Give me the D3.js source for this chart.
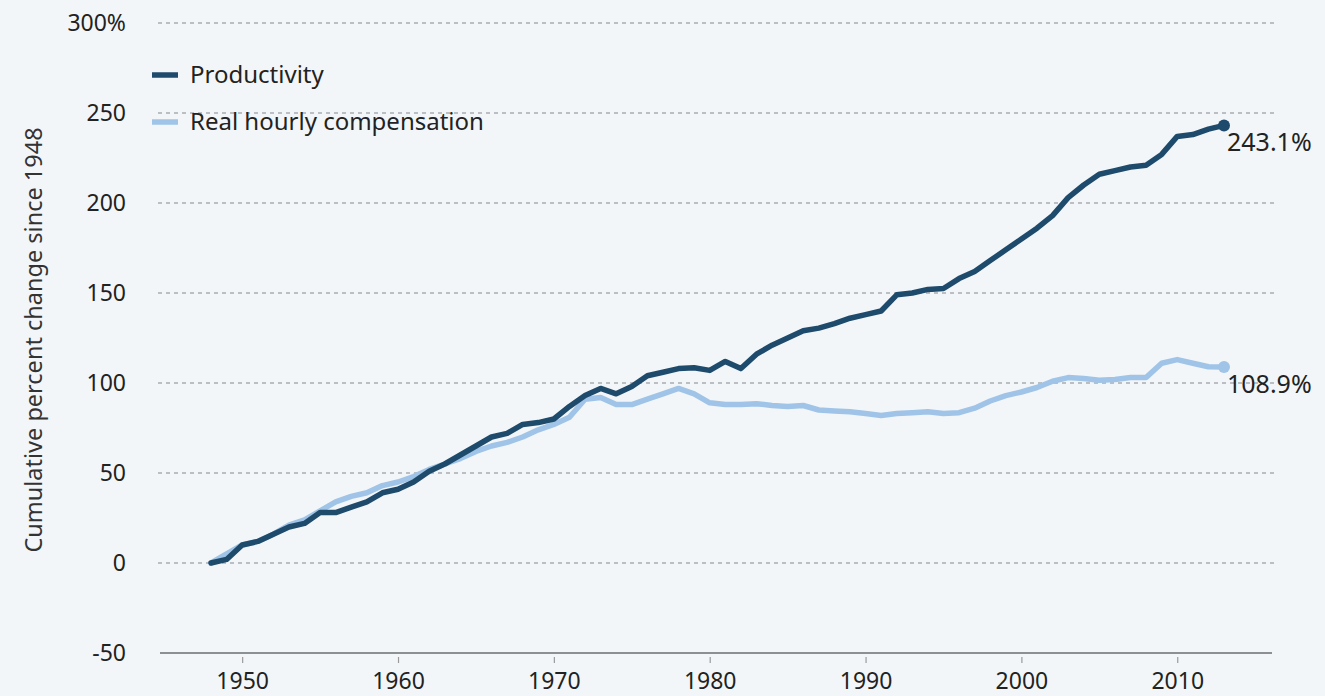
<!DOCTYPE html>
<html>
<head>
<meta charset="utf-8">
<script src="https://cdn.jsdelivr.net/npm/d3@7"></script>
<style>
  html, body { margin: 0; padding: 0; background: #f3f6f9; }
  svg { display: block; font-family: "Noto Sans", sans-serif; }
</style>
</head>
<body>
<svg id="chart" width="1325" height="696"></svg>
<script>
// years 1948-2013
const years = d3.range(1948, 2014);

// cumulative % change since 1948
const productivity = [
  0, 2, 10, 12, 16, 20, 22, 28, 28, 31,
  34, 39, 41, 45, 51, 55, 60, 65, 70, 72,
  77, 78, 80, 87, 93, 97, 94, 98, 104, 106,
  108, 108.5, 107, 112, 108, 116, 121, 125, 129, 130.5,
  133, 136, 138, 140, 149, 150, 152, 152.5, 158, 162,
  168, 174, 180, 186, 193, 203, 210, 216, 218, 220,
  221, 227, 237, 238, 241, 243.1
];
const compensation = [
  0, 5, 10, 12, 16, 21, 24, 29, 34, 37,
  39, 43, 45, 48, 52, 55, 58, 62, 65, 67,
  70, 74, 77, 81, 91, 92, 88, 88, 91, 94,
  97, 94, 89, 88, 88, 88.5, 87.5, 87, 87.5, 85,
  84.5, 84, 83, 82, 83, 83.5, 84, 83, 83.5, 86,
  90, 93, 95, 97.5, 101, 103, 102.5, 101.5, 102, 103,
  103, 111, 113, 111, 109, 108.9
];

const yTicks = [-50, 0, 50, 100, 150, 200, 250, 300];
const xTicks = [1950, 1960, 1970, 1980, 1990, 2000, 2010];

const seriesNames = ["Productivity", "Real hourly compensation"];
const colors = ["#1e4a6c", "#9fc4e7"];
const endLabels = ["243.1%", "108.9%"];

const svg = d3.select("#chart");

// scales
const x = d3.scaleLinear()
    .domain([1948, 2013])
    .range([211, 1224]);

const y = d3.scaleLinear()
    .domain([-50, 300])
    .range([653, 23]);

const gridLeft = 158, gridRight = 1274;

// dashed gridlines
svg.append("g")
  .selectAll("line")
  .data(yTicks.filter(d => d > -50))
  .join("line")
    .attr("x1", gridLeft)
    .attr("x2", gridRight)
    .attr("y1", d => y(d))
    .attr("y2", d => y(d))
    .attr("stroke", "#a9acb0")
    .attr("stroke-width", 1.6)
    .attr("stroke-dasharray", "4,4");

// y axis labels
svg.append("g")
  .selectAll("text")
  .data(yTicks)
  .join("text")
    .attr("x", 126)
    .attr("y", d => y(d))
    .attr("dy", "0.35em")
    .attr("text-anchor", "end")
    .attr("font-size", 23)
    .attr("fill", "#222")
    .text(d => d === 300 ? "300%" : d);

// x axis (bottom line at -50)
const xAxis = svg.append("g")
    .attr("transform", `translate(0,${y(-50)})`)
    .call(d3.axisBottom(x).tickValues(xTicks).tickFormat(d3.format("d")).tickSize(10).tickPadding(10));
xAxis.select(".domain").remove();
xAxis.selectAll(".tick line").attr("stroke", "#9a9a9a").attr("stroke-width", 1.2).attr("y1", 4);
xAxis.selectAll(".tick text")
    .attr("font-size", 23)
    .attr("font-family", "Noto Sans, sans-serif")
    .attr("fill", "#222");
xAxis.append("line")
    .attr("x1", gridLeft + 2)
    .attr("x2", gridRight - 2)
    .attr("stroke", "#8d8f92")
    .attr("stroke-width", 2);

// y axis title
svg.append("text")
    .attr("transform", `translate(42,${(y(300) + y(-50)) / 2 + 2}) rotate(-90)`)
    .attr("text-anchor", "middle")
    .attr("font-size", 23.5)
    .attr("fill", "#333")
    .text("Cumulative percent change since 1948");

// lines
const line = d3.line()
    .x((d, i) => x(years[i]))
    .y(d => y(d));

const allSeries = [productivity, compensation];

svg.append("g")
  .selectAll("path")
  .data(allSeries.slice().reverse())
  .join("path")
    .attr("fill", "none")
    .attr("stroke", (d, i) => colors[1 - i])
    .attr("stroke-width", 5.5)
    .attr("stroke-linejoin", "round")
    .attr("stroke-linecap", "round")
    .attr("d", line);

// end dots + labels
const last = years.length - 1;
svg.append("g")
  .selectAll("circle")
  .data(allSeries)
  .join("circle")
    .attr("cx", x(years[last]))
    .attr("cy", d => y(d[last]))
    .attr("r", 6)
    .attr("fill", (d, i) => colors[i]);

svg.append("g")
  .selectAll("text")
  .data(allSeries)
  .join("text")
    .attr("x", x(years[last]) + 3)
    .attr("y", d => y(d[last]) + 26)
    .attr("font-size", 25)
    .attr("fill", "#222")
    .text((d, i) => endLabels[i]);

// legend
const legend = svg.append("g")
    .attr("transform", "translate(152,75)");
legend.selectAll("line")
  .data(seriesNames)
  .join("line")
    .attr("x1", 0)
    .attr("x2", 26)
    .attr("y1", (d, i) => i * 47)
    .attr("y2", (d, i) => i * 47)
    .attr("stroke", (d, i) => colors[i])
    .attr("stroke-width", 5.5);
legend.selectAll("text")
  .data(seriesNames)
  .join("text")
    .attr("x", 38)
    .attr("y", (d, i) => i * 47)
    .attr("dy", "0.35em")
    .attr("font-size", 24)
    .attr("fill", "#222")
    .text(d => d);
</script>
</body>
</html>
